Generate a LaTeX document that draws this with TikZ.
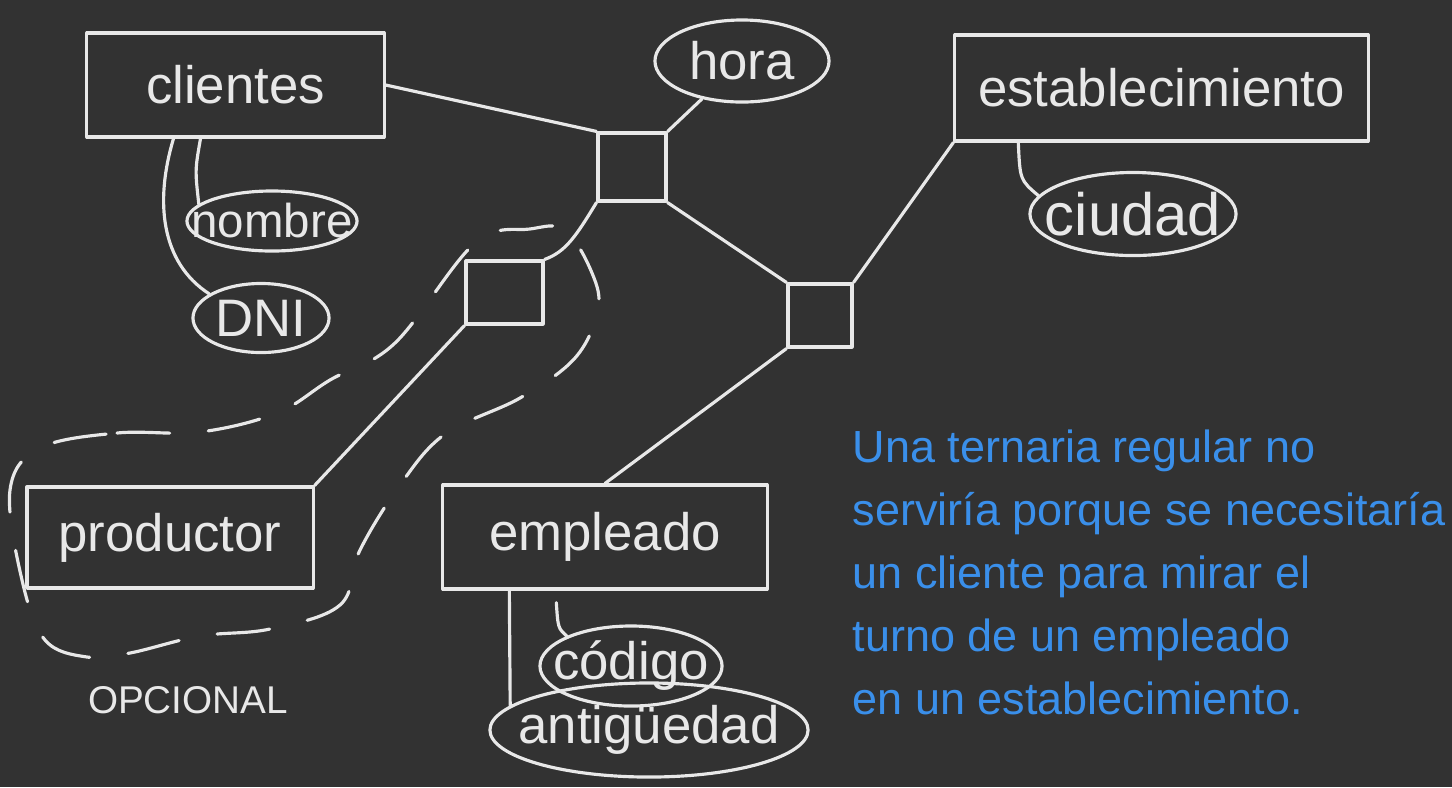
\documentclass[tikz,border=0pt]{standalone}
\usepackage{fontspec}
\setmainfont{Liberation Sans}
\usetikzlibrary{shapes.geometric,calc}

\definecolor{board}{RGB}{50,50,50}
\definecolor{chalk}{RGB}{232,232,232}
\definecolor{ink}{RGB}{58,143,234}

\begin{document}
\begin{tikzpicture}[x=0.01cm,y=-0.01cm,line width=0.9pt,line cap=round,line join=round,chalk,
  ent/.style={draw,rectangle,inner sep=0,font=\fontsize{15}{18}\selectfont},
  att/.style={draw,ellipse,inner sep=0,label={[font=\fontsize{15}{18}\selectfont]center:#1}},
  rel/.style={draw,rectangle,inner sep=0}]
\fill[board] (0,0) rectangle (1452,787);
\useasboundingbox (0,0) rectangle (1452,787);
\node[ent,minimum width=2.97cm,minimum height=1.04cm] (cli) at (235.5,85) {clientes};
\node[ent,minimum width=4.13cm,minimum height=1.06cm] (est) at (1161.5,88) {establecimiento};
\node[ent,minimum width=2.86cm,minimum height=1.01cm] (prod) at (170,537.5) {productor};
\node[ent,minimum width=3.24cm,minimum height=1.04cm] (emp) at (605,537) {empleado};
\node[rel,minimum width=0.68cm,minimum height=0.68cm] (r1) at (632,167) {};
\node[rel,minimum width=0.77cm,minimum height=0.63cm] (r2) at (504.5,292.5) {};
\node[rel,minimum width=0.64cm,minimum height=0.63cm] (r3) at (820,315.5) {};
\node[att=hora,minimum width=1.74cm,minimum height=0.82cm] (hora) at (742,61) {};
\node[att={\fontsize{13.5}{16}\selectfont nombre},minimum width=1.70cm,minimum height=0.60cm] (nom) at (272,221) {};
\node[att=DNI,minimum width=1.36cm,minimum height=0.69cm] (dni) at (261,318) {};
\node[att={\fontsize{17}{20}\selectfont ciudad},minimum width=2.06cm,minimum height=0.83cm] (ciu) at (1133,214) {};
\node[att=código,minimum width=1.82cm,minimum height=0.80cm] (cod) at (631,666) {};
\node[att=antigüedad,minimum width=3.18cm,minimum height=0.94cm] (ant) at (649,730) {};
\node[font=\fontsize{11}{13}\selectfont] (opc) at (188,700) {OPCIONAL};
\node[ink,anchor=north west,align=left,inner sep=0,font=\fontsize{12.8}{17.9}\selectfont] (nota) at (851,428)
  {Una ternaria regular no\\serviría porque se necesitaría\\un cliente para mirar el\\turno de un empleado\\en un establecimiento.};
\draw (cli.east) -- (r1.north west);
\draw (r1.north east) -- (hora);
\draw (r1.south east) -- (r3.north west);
\draw (r3.north east) -- (est.south west);
\draw (r3.south west) -- (emp.north);
\draw (r1.south west) .. controls (575,238) and (565,252) .. (r2.north east);
\draw (r2.south west) -- (prod.north east);
\draw ($(cli.south)+(-62,0)$) .. controls (155,200) and (160,262) .. (dni.155);
\draw ($(cli.south)+(-35,0)$) .. controls (195,170) .. (nom.167);
\draw ($(est.south west)+(65,0)$) .. controls (1020,180) .. (ciu.169);
\draw ($(emp.south west)+(68,0)$) -- (ant.170);
\draw ($(emp.south west)+(115,12)$) .. controls (558,628) .. (cod.155);
\draw[dash pattern=on 15pt off 11pt] plot[smooth cycle,tension=0.6] coordinates {
  (40,448) (117,433) (200,432) (277,413) (330,380) (395,343) (475,243) (530,229)
  (565,230) (592,273) (598,310) (575,358) (520,398) (445,434) (400,485) (360,550)
  (340,605) (270,629) (200,636) (130,653) (87,657) (45,640) (22,580) (10,490)};
\end{tikzpicture}
\end{document}
